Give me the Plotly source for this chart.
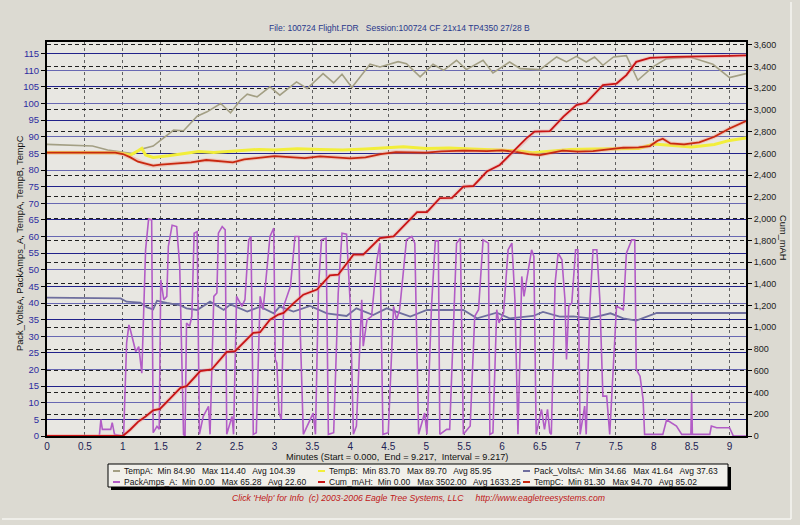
import plotly.graph_objects as go

# ---------------- data ----------------
tempA_t = [0, 0.3, 0.6, 0.8, 1.0, 1.15, 1.25, 1.4, 1.5, 1.67, 1.8, 1.98, 2.11, 2.29, 2.42, 2.55, 2.64, 2.77,
           2.94, 3.07, 3.29, 3.43, 3.64, 3.78, 3.89, 4.02, 4.26, 4.39, 4.63, 4.74, 4.92, 5.09, 5.23, 5.40,
           5.53, 5.75, 5.88, 6.10, 6.24, 6.50, 6.72, 6.85, 6.98, 7.11, 7.22, 7.33, 7.47, 7.64, 7.79, 7.99,
           8.17, 8.48, 8.78, 9.0, 9.217]
tempA_v = [87.7, 87.4, 87.2, 86.0, 85.3, 84.9, 86.3, 87.2, 89.0, 92.0, 91.8, 96.2, 97.5, 100.0, 97.2, 101.0,
           102.8, 102.0, 105.0, 102.5, 106.5, 104.5, 109.0, 106.2, 108.8, 104.8, 111.8, 111.0, 112.6, 112.0,
           108.0, 111.8, 110.0, 113.0, 110.2, 113.0, 109.2, 112.5, 110.5, 110.2, 114.0, 112.5, 114.2, 112.5,
           114.0, 111.5, 114.0, 114.4, 107.0, 111.0, 113.5, 114.0, 111.8, 107.8, 109.0]

tempB_t = [0, 0.5, 0.9, 1.0, 1.1, 1.2, 1.25, 1.3, 1.4, 1.6, 1.8, 2.0, 2.2, 2.5, 2.8, 3.0, 3.3, 3.6, 3.9,
           4.2, 4.5, 4.7, 5.0, 5.3, 5.6, 5.9, 6.2, 6.4, 6.6, 6.9, 7.2, 7.5, 7.8, 8.0, 8.2, 8.5, 8.8, 9.0, 9.217]
tempB_v = [85.3, 85.3, 85.2, 85.0, 84.5, 85.8, 86.5, 84.5, 83.8, 84.3, 85.0, 85.6, 85.3, 85.8, 86.2, 86.0,
           86.4, 86.2, 86.0, 86.3, 86.8, 87.0, 86.5, 86.6, 86.3, 86.0, 85.8, 85.2, 85.6, 86.2, 86.3, 86.5,
           86.5, 87.8, 87.5, 86.9, 87.7, 88.9, 89.6]

tempC_t = [0, 0.9, 1.0, 1.1, 1.2, 1.3, 1.4, 1.5, 1.7, 1.9, 2.1, 2.3, 2.45, 2.6, 2.8, 3.0, 3.2, 3.4, 3.6,
           3.8, 4.0, 4.2, 4.4, 4.6, 4.8, 5.0, 5.2, 5.5, 5.8, 6.0, 6.2, 6.35, 6.5, 6.65, 6.8, 7.0, 7.2, 7.4,
           7.6, 7.8, 7.95, 8.05, 8.12, 8.22, 8.4, 8.6, 8.8, 9.0, 9.217]
tempC_v = [85.2, 85.2, 84.8, 83.8, 82.5, 81.8, 81.3, 81.6, 82.0, 82.3, 83.0, 82.6, 82.3, 83.2, 83.6, 84.2,
           83.9, 83.6, 84.1, 83.8, 83.5, 83.8, 84.8, 85.4, 85.3, 85.2, 85.6, 85.8, 85.7, 85.9, 85.4, 84.8,
           84.5, 85.2, 85.8, 85.5, 85.7, 86.2, 86.7, 86.8, 87.2, 88.8, 89.4, 88.0, 87.7, 88.3, 90.0, 92.5, 94.7]

volts_t = [0, 0.6, 0.7, 0.97, 1.05, 1.23, 1.32, 1.40, 1.45, 1.58, 1.76, 1.84, 1.98, 2.15, 2.33, 2.42, 2.64,
           2.81, 2.99, 3.07, 3.25, 3.47, 3.69, 3.95, 4.08, 4.30, 4.48, 4.79, 5.01, 5.23, 5.49, 5.67, 5.93,
           6.10, 6.41, 6.54, 6.76, 6.94, 7.16, 7.43, 7.60, 7.77, 8.04, 9.217]
volts_v = [41.6, 41.6, 41.4, 41.4, 40.4, 40.1, 38.7, 38.1, 40.7, 40.0, 39.3, 38.4, 37.9, 40.4, 37.9, 39.6,
           37.4, 38.9, 36.9, 38.9, 37.4, 39.1, 36.9, 36.1, 38.4, 36.4, 38.4, 35.9, 37.9, 37.9, 37.9, 35.4,
           37.1, 35.4, 36.1, 37.3, 35.9, 36.0, 35.4, 36.9, 35.4, 34.7, 37.0, 37.0]

amps_t = [0, 0.69, 0.71, 0.73, 0.80, 0.84, 0.86, 0.89, 0.99, 1.01, 1.05, 1.08, 1.10, 1.14, 1.17, 1.21, 1.25,
          1.30, 1.34, 1.38, 1.40, 1.45, 1.48, 1.50, 1.54, 1.58, 1.60, 1.65, 1.71, 1.75, 1.78, 1.80, 1.82,
          1.84, 1.88, 1.91, 1.94, 1.98, 2.01, 2.06, 2.13, 2.15, 2.20, 2.24, 2.26, 2.31, 2.35, 2.37, 2.44,
          2.46, 2.50, 2.57, 2.61, 2.66, 2.69, 2.72, 2.76, 2.81, 2.85, 2.94, 2.99, 3.01, 3.03, 3.06, 3.09,
          3.12, 3.21, 3.27, 3.32, 3.34, 3.38, 3.51, 3.54, 3.58, 3.62, 3.68, 3.71, 3.78, 3.84, 3.89, 3.95,
          4.00, 4.04, 4.08, 4.15, 4.17, 4.22, 4.28, 4.35, 4.39, 4.43, 4.50, 4.57, 4.61, 4.65, 4.74, 4.81,
          4.85, 4.90, 4.98, 5.01, 5.07, 5.12, 5.16, 5.18, 5.27, 5.31, 5.38, 5.40, 5.45, 5.47, 5.49, 5.58,
          5.64, 5.69, 5.75, 5.82, 5.84, 5.88, 5.93, 5.96, 6.02, 6.08, 6.13, 6.17, 6.20, 6.21, 6.24, 6.26,
          6.29, 6.35, 6.39, 6.42, 6.45, 6.52, 6.56, 6.60, 6.63, 6.65, 6.70, 6.74, 6.79, 6.83, 6.85, 6.88,
          6.92, 6.97, 7.00, 7.03, 7.09, 7.11, 7.16, 7.20, 7.25, 7.29, 7.33, 7.38, 7.42, 7.51, 7.60, 7.64,
          7.71, 7.75, 7.77, 7.82, 7.86, 7.88, 8.12, 8.17, 8.23, 8.30, 8.37, 8.49, 8.50, 8.51, 8.74, 8.76,
          8.83, 9.0, 9.05, 9.217]
amps_v = [0, 0, 4.9, 2, 2, 2, 4, 0.5, 0, 0, 28, 33.4, 31.9, 28, 25.4, 26.9, 18.9,
          56, 65.3, 65, 1, 2.9, 2, 47, 41, 42, 57, 63.4, 63, 51, 15, 0.5, 0,
          34, 33, 36, 61, 61.5, 0.5, 5.9, 8.9, 0.5, 42, 43, 61, 63, 62, 0.5, 5.9,
          0.5, 42, 39, 41, 59, 60, 0.5, 1, 42, 38, 60, 62.5, 23, 22, 7, 5,
          39, 45, 60, 60, 31, 0.5, 6.9, 0.5, 45, 59, 59.5, 0.5, 1, 43, 61, 60.7,
          39, 0.5, 3, 41, 27, 35, 36, 53, 58, 0.5, 1, 39, 35, 38, 59, 60,
          58, 0.5, 6.9, 0.5, 39, 58.7, 58.7, 0.5, 2, 2, 47, 58, 59.5, 32, 0.5, 3,
          36, 38, 59, 58, 0.5, 1, 38, 34, 37, 56, 58, 41, 10, 0.5, 28, 48,
          42, 51, 56, 54, 0.5, 8, 2, 8, 1, 0.5, 46, 55, 53, 41, 23, 39,
          40, 56, 56, 0.5, 9, 0.5, 40, 56, 56, 41, 12, 12, 0.5, 39, 38, 55,
          59, 59, 20, 18, 11, 0.5, 0.5, 4.9, 3.9, 3, 0.5, 0.5, 13, 0.5, 0.5, 3,
          2.5, 2.5, 0, 0]

mah_t = [0, 1.0, 1.1, 1.2, 1.3, 1.40, 1.49, 1.6, 1.76, 1.84, 1.92, 2.02, 2.17, 2.28, 2.37, 2.48, 2.6, 2.72,
         2.81, 2.94, 3.05, 3.12, 3.25, 3.38, 3.56, 3.73, 3.84, 4.04, 4.17, 4.30, 4.39, 4.57, 4.72, 4.88,
         5.01, 5.18, 5.34, 5.49, 5.62, 5.80, 5.97, 6.15, 6.32, 6.43, 6.63, 6.81, 6.98, 7.11, 7.33, 7.51,
         7.64, 7.77, 7.95, 8.26, 8.61, 9.0, 9.217]
mah_v = [0, 0, 60, 130, 180, 236, 250, 330, 443, 459, 520, 597, 612, 700, 774, 780, 860, 948,
         955, 1070, 1117, 1132, 1220, 1300, 1347, 1478, 1484, 1668, 1668, 1760, 1820, 1836, 1940, 2059,
         2059, 2188, 2190, 2295, 2300, 2433, 2494, 2616, 2738, 2800, 2805, 2938, 3045, 3066, 3229, 3243,
         3320, 3442, 3479, 3488, 3490, 3498, 3502]

legend_names = ["TempA", "TempB", "Pack_VoltsA", "PackAmps_A", "Cum_mAH", "TempC"]
legend_stats = ["Min 84.90   Max 114.40   Avg 104.39",
                "Min 83.70   Max 89.70   Avg 85.95",
                "Min 34.66   Max 41.64   Avg 37.63",
                "Min 0.00   Max 65.28   Avg 22.60",
                "Min 0.00   Max 3502.00   Avg 1633.25",
                "Min 81.30   Max 94.70   Avg 85.02"]

title_text = "File: 100724 Flight.FDR   Session:100724 CF 21x14 TP4350 27/28 B"
x_title = "Minutes (Start = 0.000,  End = 9.217,  Interval = 9.217)"
y_title = "Pack_VoltsA, PackAmps_A, TempA, TempB, TempC"
y2_title = "Cum_mAH"
footer = "Click 'Help' for Info  (c) 2003-2006 Eagle Tree Systems, LLC     http://www.eagletreesystems.com"

# ---------------- styling ----------------
W, H = 800, 525
L, R, T, B = 47, 54, 42, 89
PW, PH = W - L - R, H - T - B
FONT = "Liberation Sans, Arial, sans-serif"

C_A = "#A39F84"
C_B = "#F2EE3A"
C_V = "#6E6E9E"
C_AMP = "#B25CC6"
C_MAH = "#C81414"
C_C = "#C82810"
colors = [C_A, C_B, C_V, C_AMP, C_MAH, C_C]


def px(xp):
    return (xp - L) / PW


def py(yp):
    return (H - B - yp) / PH


fig = go.Figure()
fig.add_trace(go.Scatter(x=tempA_t, y=tempA_v, mode="lines", line=dict(color=C_A, width=1.6)))
fig.add_trace(go.Scatter(x=tempB_t, y=tempB_v, mode="lines", line=dict(color=C_B, width=3)))
fig.add_trace(go.Scatter(x=volts_t, y=volts_v, mode="lines", line=dict(color=C_V, width=1.8)))
fig.add_trace(go.Scatter(x=amps_t, y=amps_v, mode="lines", line=dict(color=C_AMP, width=1.6)))
fig.add_trace(go.Scatter(x=mah_t, y=mah_v, mode="lines", yaxis="y2",
                         line=dict(color="rgba(240,150,150,0.4)", width=4)))
fig.add_trace(go.Scatter(x=mah_t, y=mah_v, mode="lines", yaxis="y2", line=dict(color=C_MAH, width=1.8)))
fig.add_trace(go.Scatter(x=tempC_t, y=tempC_v, mode="lines",
                         line=dict(color="rgba(240,150,130,0.4)", width=4)))
fig.add_trace(go.Scatter(x=tempC_t, y=tempC_v, mode="lines", line=dict(color=C_C, width=1.8)))

anns = []
anns.append(dict(text=title_text, x=px(400), y=py(28), xref="paper", yref="paper", showarrow=False,
                 xanchor="center", yanchor="middle", font=dict(family=FONT, size=8.5, color="#28388C")))
anns.append(dict(text=x_title, x=px(397), y=py(457), xref="paper", yref="paper", showarrow=False,
                 xanchor="center", yanchor="middle", font=dict(family=FONT, size=9.2, color="#111111")))
anns.append(dict(text=y_title, x=px(20), y=py(243), xref="paper", yref="paper", showarrow=False,
                 textangle=-90, xanchor="center", yanchor="middle",
                 font=dict(family=FONT, size=9.3, color="#111111")))
anns.append(dict(text=y2_title, x=px(783), y=py(237), xref="paper", yref="paper", showarrow=False,
                 textangle=90, xanchor="center", yanchor="middle",
                 font=dict(family=FONT, size=9.3, color="#111111")))
anns.append(dict(text="<i>" + footer + "</i>", x=px(418), y=py(498), xref="paper", yref="paper",
                 showarrow=False, xanchor="center", yanchor="middle",
                 font=dict(family=FONT, size=8.7, color="#C01818")))

shapes = []
# window bevel (right and bottom light edges)
shapes.append(dict(type="line", xref="paper", yref="paper", x0=px(791), x1=px(791), y0=py(2), y1=py(519),
                   line=dict(color="#F6F5F0", width=1.5), layer="above"))
shapes.append(dict(type="line", xref="paper", yref="paper", x0=px(2), x1=px(791), y0=py(519), y1=py(519),
                   line=dict(color="#F6F5F0", width=1.5), layer="above"))
# legend box with shadow
shapes.append(dict(type="rect", xref="paper", yref="paper", x0=px(111), x1=px(731), y0=py(467), y1=py(490),
                   fillcolor="#000000", line=dict(width=0), layer="above"))
shapes.append(dict(type="rect", xref="paper", yref="paper", x0=px(108), x1=px(728), y0=py(464), y1=py(487),
                   fillcolor="#F1F0EB", line=dict(color="#000000", width=1), layer="above"))

col_x = [113, 318, 523]
row_y = [471, 482]
for i, (name, stat) in enumerate(zip(legend_names, legend_stats)):
    r, c = divmod(i, 3)
    x0 = col_x[c]
    yy = row_y[r]
    shapes.append(dict(type="line", xref="paper", yref="paper", x0=px(x0), x1=px(x0 + 7), y0=py(yy), y1=py(yy),
                       line=dict(color=colors[i], width=2), layer="above"))
    anns.append(dict(text=name + ":  " + stat, x=px(x0 + 9), y=py(yy), xref="paper", yref="paper",
                     showarrow=False, xanchor="left", yanchor="middle",
                     font=dict(family=FONT, size=8.5, color="#111111")))

fig.update_layout(
    width=W, height=H,
    margin=dict(l=L, r=R, t=T, b=B, pad=0),
    paper_bgcolor="#DCDAD2",
    plot_bgcolor="#E8E7E2",
    showlegend=False,
    font=dict(family=FONT, size=10),
    annotations=anns,
    shapes=shapes,
    xaxis=dict(range=[0, 9.217], tick0=0, dtick=0.5, showgrid=True, gridcolor="#606060", griddash="3px,3px",
               gridwidth=1, zeroline=False, showline=True, linecolor="#000000", linewidth=2, mirror=True,
               ticks="", tickfont=dict(family=FONT, size=10, color="#222255")),
    yaxis=dict(range=[0, 118.5], tick0=0, dtick=5, showgrid=True, gridcolor="#6868B2", gridwidth=1,
               zeroline=False, showline=True, linecolor="#000000", linewidth=2, mirror=True,
               ticks="outside", ticklen=4, tickcolor="#000000",
               tickfont=dict(family=FONT, size=9.5, color="#2C2CA0")),
    yaxis3=dict(range=[0, 118.5], tick0=5, dtick=10, overlaying="y", showgrid=True, gridcolor="#22228A",
                gridwidth=1.4, zeroline=False, showline=False, showticklabels=False, ticks=""),
    yaxis2=dict(range=[0, 3625], tick0=0, dtick=200, overlaying="y", side="right", tickformat=",d",
                showgrid=True, gridcolor="#202020", griddash="4px,3px", gridwidth=1, zeroline=False,
                showline=True, linecolor="#000000", linewidth=2, ticks="outside", ticklen=4,
                tickcolor="#000000", tickfont=dict(family=FONT, size=9, color="#222222")),
)
# attach an invisible trace to yaxis3 so its grid renders
fig.add_trace(go.Scatter(x=[None], y=[None], yaxis="y3", showlegend=False, hoverinfo="skip"))

fig.write_html("out.html")
